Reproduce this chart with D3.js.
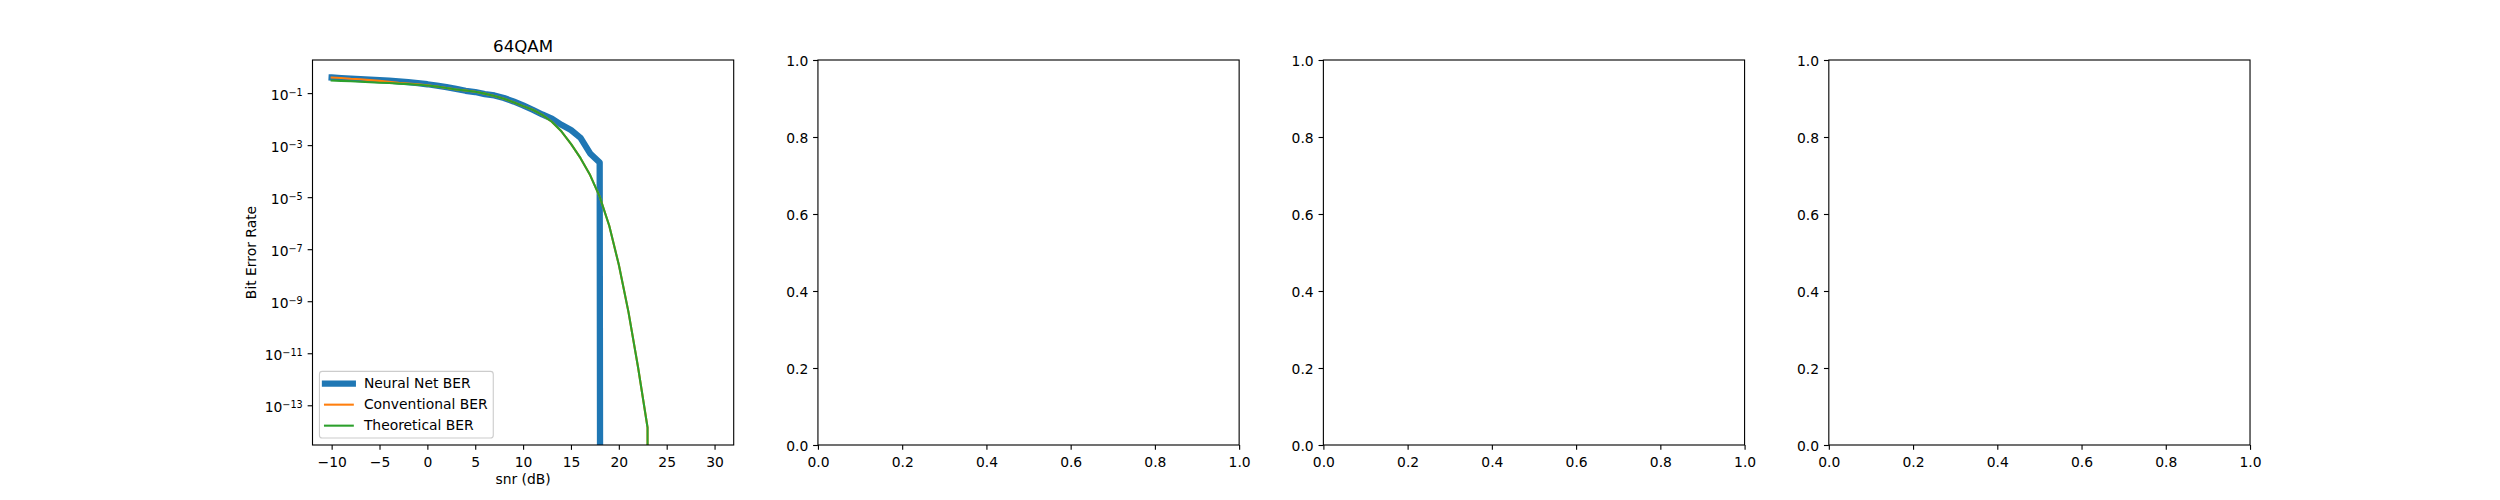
<!DOCTYPE html>
<html>
<head>
<meta charset="utf-8">
<script src="https://cdn.jsdelivr.net/npm/d3@7"></script>
<style>
  body { margin: 0; background: #fff; }
  svg { display: block; }
  text { font-family: "DejaVu Sans", sans-serif; fill: #000; }
</style>
</head>
<body>
<div id="chart"></div>
<script>
// snr points (dB)
const snr = [-10, -9, -8, -7, -6, -5, -4, -3, -2, -1, 0, 1, 2, 3, 4, 5, 6, 7, 8, 9, 10,
  11, 12, 13, 14, 15, 16, 17, 18, 19, 20, 21, 22, 23, 24, 25, 26, 27, 28, 29, 30];

// BER curves (0 = no errors, falls off the log axis)
const nnBer = [0.398, 0.380, 0.363, 0.347, 0.331, 0.316, 0.302, 0.282, 0.263, 0.240, 0.219,
  0.195, 0.170, 0.145, 0.123, 0.110, 0.0912, 0.0813, 0.0646, 0.0479, 0.0339,
  0.0229, 0.0151, 0.0105, 6.03e-3, 3.80e-3, 1.91e-3, 4.79e-4, 2.14e-4, 0, 0,
  0, 0, 0, 0, 0, 0, 0, 0, 0, 0];
const convBer = [0.395, 0.380, 0.355, 0.339, 0.316, 0.295, 0.275, 0.251, 0.234, 0.216, 0.200,
  0.178, 0.158, 0.138, 0.126, 0.112, 0.0955, 0.0776, 0.0603, 0.0447, 0.0316,
  0.0229, 0.0145, 7.94e-3, 3.39e-3, 1.12e-3, 3.16e-4, 7.08e-5, 1.05e-5, 7.94e-7, 2.51e-8,
  3.98e-10, 3.02e-12, 1.4e-14, 0, 0, 0, 0, 0, 0, 0];
const theoryBer = [0.305, 0.295, 0.285, 0.275, 0.263, 0.251, 0.243, 0.232, 0.221, 0.209, 0.195,
  0.178, 0.158, 0.138, 0.126, 0.112, 0.0955, 0.0776, 0.0603, 0.0447, 0.0316,
  0.0229, 0.0145, 7.94e-3, 3.39e-3, 1.12e-3, 3.16e-4, 7.08e-5, 1.05e-5, 7.94e-7, 2.51e-8,
  3.98e-10, 3.02e-12, 1.4e-14, 0, 0, 0, 0, 0, 0, 0];

const seriesNames = ['Neural Net BER', 'Conventional BER', 'Theoretical BER'];
const seriesColors = ['#1f77b4', '#ff7f0e', '#2ca02c'];
const seriesWidths = [6.3, 2.08, 2.08];

const snrTicks = [-10, -5, 0, 5, 10, 15, 20, 25, 30];
const berTicks = [1e-1, 1e-3, 1e-5, 1e-7, 1e-9, 1e-11, 1e-13];
const unitTicks = [0, 0.2, 0.4, 0.6, 0.8, 1.0];

const W = 2500, H = 500;
const axL = 312.5, axW = 421.2, gap = 84.24, axT = 60, axH = 385;
const fs = 13.89, tickLen = 4.86;

const svg = d3.select('#chart').append('svg').attr('width', W).attr('height', H);

function panel(i) {
  return svg.append('g').attr('transform', `translate(${axL + i * (axW + gap)},${axT})`);
}

function styleAxis(ax) {
  ax.select('.domain').remove();
  ax.attr('font-family', null).attr('font-size', null);
  ax.selectAll('.tick line').attr('stroke', '#000').attr('stroke-width', 1.11);
  ax.selectAll('.tick text').attr('font-size', fs).attr('fill', '#000');
}

function spines(g) {
  g.append('rect').attr('width', axW).attr('height', axH)
    .attr('fill', 'none').attr('stroke', '#000').attr('stroke-width', 1.11);
}

// ---------- panel 1 : 64QAM ----------
const g0 = panel(0);
const x = d3.scaleLinear()
  .domain([d3.min(snr) - 0.05 * (d3.max(snr) - d3.min(snr)), d3.max(snr) + 0.05 * (d3.max(snr) - d3.min(snr))])
  .range([0, axW]);
const allPos = [...nnBer, ...convBer, ...theoryBer].filter(v => v > 0);
const lo = Math.log10(d3.min(allPos)), hi = Math.log10(d3.max(allPos)), pad = (hi - lo) * 0.05;
const y = d3.scaleLog().domain([10 ** (lo - pad), 10 ** (hi + pad)]).range([axH, 0]);

svg.append('defs').append('clipPath').attr('id', 'clip0')
  .append('rect').attr('width', axW).attr('height', axH);

const line = d3.line().x(d => x(d[0])).y(d => y(Math.max(d[1], 1e-300)));
[nnBer, convBer, theoryBer].forEach((s, k) => {
  g0.append('path')
    .datum(snr.map((v, j) => [v, s[j]]))
    .attr('clip-path', 'url(#clip0)')
    .attr('d', line)
    .attr('fill', 'none')
    .attr('stroke', seriesColors[k])
    .attr('stroke-width', seriesWidths[k])
    .attr('stroke-linejoin', 'round')
    .attr('stroke-linecap', 'square');
});

const xa0 = g0.append('g').attr('transform', `translate(0,${axH})`)
  .call(d3.axisBottom(x).tickValues(snrTicks).tickSize(tickLen).tickPadding(6.9)
    .tickFormat(d => d < 0 ? '\u2212' + Math.abs(d) : String(d)));
styleAxis(xa0);

const ya0 = g0.append('g')
  .call(d3.axisLeft(y).tickValues(berTicks).tickSize(tickLen).tickPadding(4.86).tickFormat(''));
styleAxis(ya0);
ya0.selectAll('.tick text').attr('dy', null).attr('y', 6.7).each(function (d) {
  const t = d3.select(this);
  t.append('tspan').text('10');
  t.append('tspan').attr('font-size', 9.7).attr('dy', -4.5)
    .text('\u2212' + Math.round(-Math.log10(d)));
});
spines(g0);

g0.append('text').attr('x', axW / 2).attr('y', -8.33).attr('text-anchor', 'middle')
  .attr('font-size', 16.67).text('64QAM');
g0.append('text').attr('x', axW / 2).attr('y', 424).attr('text-anchor', 'middle')
  .attr('font-size', fs).text('snr (dB)');
g0.append('text').attr('transform', `translate(${255.5 - axL},${axH / 2}) rotate(-90)`)
  .attr('text-anchor', 'middle').attr('font-size', fs).text('Bit Error Rate');

// legend (lower left)
const lg = g0.append('g');
const rowY = [12.3, 33.3, 54.3];
const lgBox = lg.append('rect');
const labels = seriesNames.map((n, k) => {
  lg.append('line').attr('x1', 6.94 + 5.56).attr('x2', 6.94 + 5.56 + 27.8)
    .attr('y1', axH - 6.94 - 66.7 + rowY[k]).attr('y2', axH - 6.94 - 66.7 + rowY[k])
    .attr('stroke', seriesColors[k]).attr('stroke-width', seriesWidths[k])
    .attr('stroke-linecap', 'square');
  return lg.append('text').attr('x', 6.94 + 5.56 + 27.8 + 11.1)
    .attr('y', axH - 6.94 - 66.7 + rowY[k] + 4.6).attr('font-size', fs).text(n);
});
const maxW = d3.max(labels, t => t.node().getComputedTextLength());
lgBox.attr('x', 6.94).attr('y', axH - 6.94 - 66.7)
  .attr('width', 5.56 + 27.8 + 11.1 + maxW + 5.56).attr('height', 66.7)
  .attr('rx', 2.8).attr('fill', '#fff').attr('fill-opacity', 0.8)
  .attr('stroke', '#cccccc').attr('stroke-width', 1.11);

// ---------- panels 2-4 : empty axes ----------
for (let i = 1; i < 4; i++) {
  const g = panel(i);
  const ux = d3.scaleLinear().domain([0, 1]).range([0, axW]);
  const uy = d3.scaleLinear().domain([0, 1]).range([axH, 0]);
  const xa = g.append('g').attr('transform', `translate(0,${axH})`)
    .call(d3.axisBottom(ux).tickValues(unitTicks).tickSize(tickLen).tickPadding(6.9).tickFormat(d3.format('.1f')));
  styleAxis(xa);
  const ya = g.append('g')
    .call(d3.axisLeft(uy).tickValues(unitTicks).tickSize(tickLen).tickPadding(4.86).tickFormat(d3.format('.1f')));
  styleAxis(ya);
  ya.selectAll('.tick text').attr('dy', null).attr('y', 5);
  spines(g);
}
</script>
</body>
</html>
